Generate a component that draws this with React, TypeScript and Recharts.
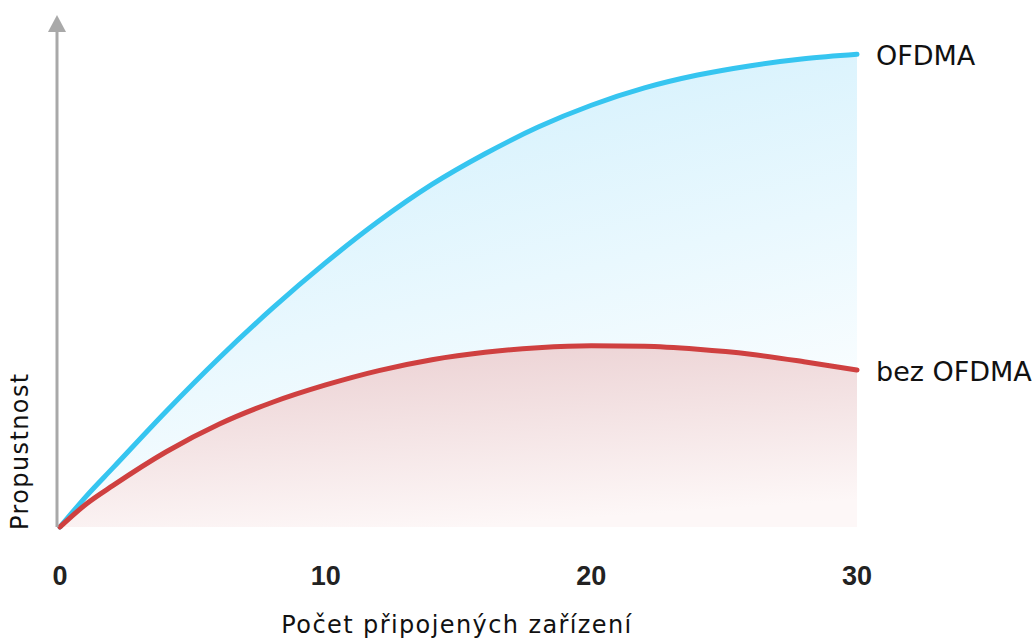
import React from "react";
import {
  AreaChart,
  Area,
  XAxis,
  YAxis,
  Label,
} from "recharts";

// number of connected devices
const devices = [0, 1, 2, 4, 6, 8, 10, 12, 14, 16, 18, 20, 22, 24, 26, 28, 30];
// relative throughput, with OFDMA
const withOfdma = [0, 6.3, 12, 23.4, 34.2, 44.2, 53.4, 61.8, 69.2, 75.4, 80.8, 85.2, 88.7, 91.3, 93.2, 94.6, 95.5];
// relative throughput, without OFDMA
const withoutOfdma = [0, 4.7, 8.4, 15.2, 20.8, 25.2, 28.7, 31.6, 33.8, 35.3, 36.2, 36.6, 36.5, 35.9, 34.9, 33.4, 31.7];

const xTicks = [0, 10, 20, 30];
const seriesNames = { ofdma: "OFDMA", legacy: "bez OFDMA" };
const xTitle = "Počet připojených zařízení";
const yTitle = "Propustnost";

const data = devices.map((d, i) => ({
  devices: d,
  ofdma: withOfdma[i],
  legacy: withoutOfdma[i],
}));

const labelFont = "'DejaVu Sans', Verdana, sans-serif";

const endLabel = (text: string) => (props: any) => {
  const { x, y, index } = props;
  if (index !== data.length - 1) return null;
  return (
    <text
      key={`end-${text}`}
      x={x + 19}
      y={y + 1}
      dominantBaseline="central"
      fontFamily={labelFont}
      fontSize={27}
      fill="#111"
    >
      {text}
    </text>
  );
};

const YTitle = (props: any) => {
  const { viewBox } = props;
  const x = viewBox.x + 28;
  const y = viewBox.y + viewBox.height + 3;
  return (
    <text
      x={x}
      y={y}
      transform={`rotate(-90, ${x}, ${y})`}
      fontFamily={labelFont}
      fontSize={24}
      letterSpacing={1.4}
      fill="#111"
    >
      {yTitle}
    </text>
  );
};

export default function App() {
  return (
    <div style={{ position: "absolute", left: 0, top: 0, background: "#fff" }}>
      <AreaChart
        width={1035}
        height={642}
        data={data}
        margin={{ top: 32, right: 178, bottom: 0, left: 0 }}
      >
        <defs>
          <linearGradient id="blueFill" x1="0.2" y1="0" x2="0.6" y2="1">
            <stop offset="0%" stopColor="#cfeffc" />
            <stop offset="55%" stopColor="#e9f8fe" />
            <stop offset="100%" stopColor="#ffffff" />
          </linearGradient>
          <linearGradient id="redFill" x1="0.2" y1="0" x2="0.5" y2="1">
            <stop offset="0%" stopColor="#ebd0d2" />
            <stop offset="100%" stopColor="#fdf7f7" />
          </linearGradient>
          <marker
            id="axisArrow"
            viewBox="0 0 17 18"
            markerWidth={17}
            markerHeight={18}
            markerUnits="userSpaceOnUse"
            refX={0}
            refY={9}
            orient="auto-start-reverse"
          >
            <path d="M0,0 L17,9 L0,18 Z" fill="#a9a9a9" />
          </marker>
        </defs>
        <XAxis
          dataKey="devices"
          type="number"
          domain={[0, 30]}
          ticks={xTicks}
          padding={{ left: 3, right: 0 }}
          axisLine={false}
          tickLine={false}
          tickMargin={33}
          height={115}
          tick={{
            fontFamily: "'Liberation Sans', Arial, sans-serif",
            fontWeight: 700,
            fontSize: 27,
            fill: "#222",
          }}
        >
          <Label
            value={xTitle}
            position="insideBottom"
            offset={9}
            style={{
              fontFamily: labelFont,
              fontSize: 24,
              letterSpacing: 1.4,
              fill: "#111",
            }}
          />
        </XAxis>
        <YAxis
          type="number"
          domain={[0, 100]}
          width={57}
          tick={false}
          tickLine={false}
          axisLine={{
            stroke: "#a9a9a9",
            strokeWidth: 3,
            markerStart: "url(#axisArrow)",
          }}
        >
          <Label content={<YTitle />} />
        </YAxis>
        <Area
          type="monotone"
          dataKey="ofdma"
          name={seriesNames.ofdma}
          stroke="#36c5f0"
          strokeWidth={5}
          strokeLinecap="round"
          fill="url(#blueFill)"
          fillOpacity={1}
          dot={false}
          activeDot={false}
          isAnimationActive={false}
          label={endLabel(seriesNames.ofdma)}
        />
        <Area
          type="monotone"
          dataKey="legacy"
          name={seriesNames.legacy}
          stroke="#cf4040"
          strokeWidth={5}
          strokeLinecap="round"
          fill="url(#redFill)"
          fillOpacity={1}
          dot={false}
          activeDot={false}
          isAnimationActive={false}
          label={endLabel(seriesNames.legacy)}
        />
      </AreaChart>
    </div>
  );
}
